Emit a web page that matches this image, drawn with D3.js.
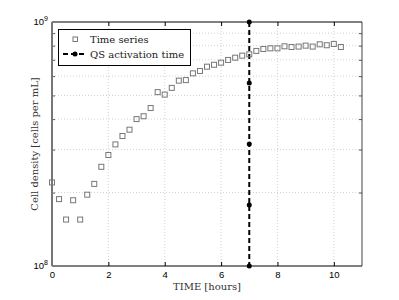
<!DOCTYPE html>
<html>
<head>
<meta charset="utf-8">
<script src="https://cdn.jsdelivr.net/npm/d3@7"></script>
<style>
  body { margin: 0; background: #fff; }
  .tick text { font-family: "Liberation Sans", Arial, sans-serif; }
</style>
</head>
<body>
<div id="chart"></div>
<script>
// data
const times = [0, 0.25, 0.5, 0.75, 1, 1.25, 1.5, 1.75, 2, 2.25, 2.5, 2.75, 3, 3.25, 3.5, 3.75,
  4, 4.25, 4.5, 4.75, 5, 5.25, 5.5, 5.75, 6, 6.25, 6.5, 6.75, 7, 7.25, 7.5, 7.75,
  8, 8.25, 8.5, 8.75, 9, 9.25, 9.5, 9.75, 10, 10.25];
const density = [2.20, 1.88, 1.55, 1.86, 1.55, 1.96, 2.17, 2.55, 2.85, 3.15, 3.41, 3.62, 4.00, 4.11,
  4.44, 5.16, 5.04, 5.37, 5.75, 5.78, 6.16, 6.30, 6.56, 6.68, 6.81, 6.99, 7.14, 7.28,
  7.37, 7.61, 7.75, 7.80, 7.80, 7.95, 7.90, 7.93, 8.00, 7.93, 8.10, 8.03, 8.13, 7.90].map(v => v * 1e8);
const qsTime = 7;
const qsDensity = [1e8, 1.778e8, 3.162e8, 5.623e8, 1e9];
const xTicks = [0, 2, 4, 6, 8, 10];
const yGrid = [2e8, 3e8, 4e8, 5e8, 6e8, 7e8, 8e8, 9e8];
const legendLabels = ["Time series", "QS activation time"];

const svgWidth = 399;
const svgHeight = 300;
const margin = { top: 22, right: 37, bottom: 34, left: 52 };
const chartWidth = svgWidth - margin.left - margin.right;
const chartHeight = svgHeight - margin.top - margin.bottom;

const svg = d3.select("#chart").append("svg")
  .attr("width", svgWidth).attr("height", svgHeight);
const g = svg.append("g").attr("transform", `translate(${margin.left},${margin.top})`);

const x = d3.scaleLinear().domain([0, 11]).range([0, chartWidth]);
const y = d3.scaleLog().domain([1e8, 1e9]).range([chartHeight, 0]);

// grid
g.selectAll(".vgrid").data(xTicks.slice(1)).enter().append("line")
  .attr("x1", d => x(d)).attr("x2", d => x(d)).attr("y1", 0).attr("y2", chartHeight)
  .attr("stroke", "#c8c8c8").attr("stroke-width", 0.8).attr("stroke-dasharray", "1,2");
g.selectAll(".hgrid").data(yGrid).enter().append("line")
  .attr("x1", 0).attr("x2", chartWidth).attr("y1", d => y(d)).attr("y2", d => y(d))
  .attr("stroke", "#c8c8c8").attr("stroke-width", 0.8).attr("stroke-dasharray", "1,2");

// axes
const bottomAxis = d3.axisBottom(x).tickValues(xTicks).tickSize(-4).tickPadding(5);
g.append("g").attr("transform", `translate(0,${chartHeight})`).call(bottomAxis)
  .call(a => a.select(".domain").remove())
  .call(a => a.selectAll("text").attr("font-size", 9.5).attr("fill", "#000"));
const topAxis = d3.axisTop(x).tickValues(xTicks).tickSize(-4).tickFormat("");
g.append("g").call(topAxis).call(a => a.select(".domain").remove());
const rightAxis = d3.axisRight(y).tickValues(yGrid).tickSize(-3).tickFormat("");
g.append("g").attr("transform", `translate(${chartWidth},0)`).call(rightAxis)
  .call(a => a.select(".domain").remove())
  .call(a => a.selectAll("line").attr("stroke", "#555"));
const leftAxis = d3.axisLeft(y).tickValues(yGrid).tickSize(-3).tickFormat("");
g.append("g").call(leftAxis).call(a => a.select(".domain").remove())
  .call(a => a.selectAll("line").attr("stroke", "#555"));

// box
g.append("line").attr("x1", 0).attr("x2", chartWidth).attr("y1", 0).attr("y2", 0).attr("stroke", "#000");
g.append("line").attr("x1", 0).attr("x2", chartWidth).attr("y1", chartHeight).attr("y2", chartHeight).attr("stroke", "#000");
g.append("line").attr("x1", chartWidth).attr("x2", chartWidth).attr("y1", 0).attr("y2", chartHeight).attr("stroke", "#444");
g.append("line").attr("x1", 0).attr("x2", 0).attr("y1", 0).attr("y2", chartHeight).attr("stroke", "#777").attr("stroke-width", 2);

// y tick labels 10^8, 10^9
[1e8, 1e9].forEach(v => {
  const t = g.append("text").attr("x", -4).attr("y", y(v) + 3)
    .attr("text-anchor", "end").attr("font-family", "Liberation Sans, Arial, sans-serif")
    .attr("font-size", 9.5);
  t.append("tspan").text("10");
  t.append("tspan").text(Math.log10(v)).attr("font-size", 7).attr("dy", -4);
});

// QS line
g.append("line")
  .attr("x1", x(qsTime)).attr("x2", x(qsTime)).attr("y1", y(1e9)).attr("y2", y(1e8))
  .attr("stroke", "#000").attr("stroke-width", 2).attr("stroke-dasharray", "5,3");
g.selectAll(".qs").data(qsDensity).enter().append("circle")
  .attr("cx", x(qsTime)).attr("cy", d => y(d)).attr("r", 2.5).attr("fill", "#000");

// time series squares
g.selectAll(".sq").data(times).enter().append("rect")
  .attr("x", (d) => x(d) - 2.5).attr("y", (d, i) => y(density[i]) - 2.5)
  .attr("width", 5).attr("height", 5)
  .attr("fill", "none").attr("stroke", "#777").attr("stroke-width", 1);

// legend
const leg = svg.append("g");
leg.append("rect").attr("x", 58.5).attr("y", 29.5).attr("width", 132).attr("height", 36)
  .attr("fill", "#fff").attr("stroke", "#000");
leg.append("rect").attr("x", 73).attr("y", 37).attr("width", 4.5).attr("height", 4.5)
  .attr("fill", "none").attr("stroke", "#777");
leg.append("line").attr("x1", 63).attr("x2", 86).attr("y1", 54).attr("y2", 54)
  .attr("stroke", "#000").attr("stroke-width", 2).attr("stroke-dasharray", "5,3");
leg.append("circle").attr("cx", 75).attr("cy", 54).attr("r", 2.5).attr("fill", "#000");
legendLabels.forEach((s, i) => {
  leg.append("text").attr("x", 90).attr("y", 43 + i * 15).text(s)
    .attr("font-family", "DejaVu Serif, serif").attr("font-size", 10).attr("fill", "#222");
});

// axis titles
svg.append("text").text("TIME [hours]")
  .attr("x", margin.left + x(5.5)).attr("y", 290)
  .attr("text-anchor", "middle").attr("font-family", "DejaVu Serif, serif")
  .attr("font-size", 10).attr("fill", "#333");
svg.append("text").text("Cell density [cells per mL]")
  .attr("transform", `translate(38,${margin.top + chartHeight / 2}) rotate(-90)`)
  .attr("text-anchor", "middle").attr("font-family", "DejaVu Serif, serif")
  .attr("font-size", 10).attr("fill", "#333");
</script>
</body>
</html>
